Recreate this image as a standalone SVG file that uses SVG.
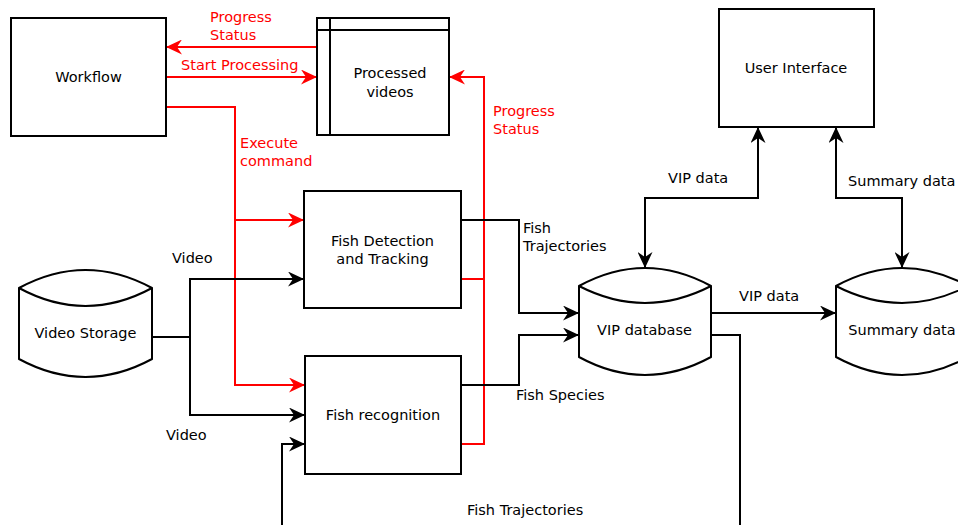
<svg xmlns="http://www.w3.org/2000/svg" width="958" height="525" viewBox="0 0 958 525">
<style>
.box{fill:#fff;stroke:#000;stroke-width:2}
.t{font-family:"DejaVu Sans",sans-serif;font-size:14.5px;fill:#000}
.c{text-anchor:middle}
.r{fill:#ff0000}
.ln{fill:none;stroke:#000;stroke-width:2}
.lr{fill:none;stroke:#ff0000;stroke-width:2}
</style>
<defs>
<marker id="ab" viewBox="0 0 16 15" refX="16" refY="7.5" markerWidth="16" markerHeight="15" markerUnits="userSpaceOnUse" orient="auto-start-reverse"><path d="M0,0 L16,7.5 L0,15 L5,7.5 z" fill="#000"/></marker>
<marker id="ar" viewBox="0 0 16 15" refX="16" refY="7.5" markerWidth="16" markerHeight="15" markerUnits="userSpaceOnUse" orient="auto-start-reverse"><path d="M0,0 L16,7.5 L0,15 L5,7.5 z" fill="#ff0000"/></marker>
</defs>
<rect width="958" height="525" fill="#fff"/>
<g id="connectors">
<path class="lr" d="M317,47 H166" marker-end="url(#ar)"/>
<path class="lr" d="M166,77 H317" marker-end="url(#ar)"/>
<path class="lr" d="M166,107 H235 V220 H304" marker-end="url(#ar)"/>
<path class="lr" d="M235,220 V385 H305" marker-end="url(#ar)"/>
<path class="lr" d="M461,279 H484 V77 H449" marker-end="url(#ar)"/>
<path class="lr" d="M461,444 H484 V279"/>
<path class="ln" d="M152,337 H190 V279 H304" marker-end="url(#ab)"/>
<path class="ln" d="M190,337 V415 H305" marker-end="url(#ab)"/>
<path class="ln" d="M461,220 H519 V313 H579" marker-end="url(#ab)"/>
<path class="ln" d="M461,385 H519 V335 H579" marker-end="url(#ab)"/>
<path class="ln" d="M711,313 H836" marker-end="url(#ab)"/>
<path class="ln" d="M758,127 V198 H645 V268" marker-start="url(#ab)" marker-end="url(#ab)"/>
<path class="ln" d="M836,127 V198 H902 V268" marker-start="url(#ab)" marker-end="url(#ab)"/>
<path class="ln" d="M711,335 H740 V535 H282 V444 H305" marker-end="url(#ab)"/>
<text class="t r" x="210" y="22">Progress</text>
<text class="t r" x="210" y="40">Status</text>
<text class="t r" x="181" y="70">Start Processing</text>
<text class="t r" x="240" y="148">Execute</text>
<text class="t r" x="240" y="166">command</text>
<text class="t r" x="493" y="116">Progress</text>
<text class="t r" x="493" y="134">Status</text>
<text class="t" x="172" y="263">Video</text>
<text class="t" x="166" y="440">Video</text>
<text class="t" x="523" y="233">Fish</text>
<text class="t" x="523" y="251">Trajectories</text>
<text class="t" x="516" y="400">Fish Species</text>
<text class="t" x="467" y="515">Fish Trajectories</text>
<text class="t" x="739" y="301">VIP data</text>
<text class="t" x="668" y="183">VIP data</text>
<text class="t" x="848" y="186">Summary data</text>
</g>
<g id="workflow">
<rect class="box" x="11" y="18" width="155" height="118"/>
<text class="t c" x="88.5" y="82">Workflow</text>
</g>
<g id="processed-videos">
<rect class="box" x="317" y="18" width="132" height="117"/>
<path class="ln" d="M330,18 V135 M317,30 H449"/>
<text class="t c" x="390" y="78">Processed</text>
<text class="t c" x="390" y="97">videos</text>
</g>
<g id="fish-detection">
<rect class="box" x="304" y="191" width="157" height="117"/>
<text class="t c" x="382.5" y="246">Fish Detection</text>
<text class="t c" x="382.5" y="264">and Tracking</text>
</g>
<g id="fish-recognition">
<rect class="box" x="305" y="356" width="156" height="118"/>
<text class="t c" x="383" y="420">Fish recognition</text>
</g>
<g id="user-interface">
<rect class="box" x="719" y="9" width="155" height="118"/>
<text class="t c" x="796" y="73">User Interface</text>
</g>
<g id="video-storage">
<path class="box" d="M19,288 Q85.5,252 152,288 V359 Q85.5,395 19,359 Z"/>
<path class="ln" d="M19,288 Q85.5,324 152,288"/>
<text class="t c" x="85.5" y="338">Video Storage</text>
</g>
<g id="vip-database">
<path class="box" d="M579,286 Q645,250 711,286 V357 Q645,393 579,357 Z"/>
<path class="ln" d="M579,286 Q645,320 711,286"/>
<text class="t c" x="644.5" y="335">VIP database</text>
</g>
<g id="summary-data">
<path class="box" d="M836,286 Q902,250 968,286 V357 Q902,393 836,357 Z"/>
<path class="ln" d="M836,286 Q902,320 968,286"/>
<text class="t c" x="902" y="335">Summary data</text>
</g>
</svg>
